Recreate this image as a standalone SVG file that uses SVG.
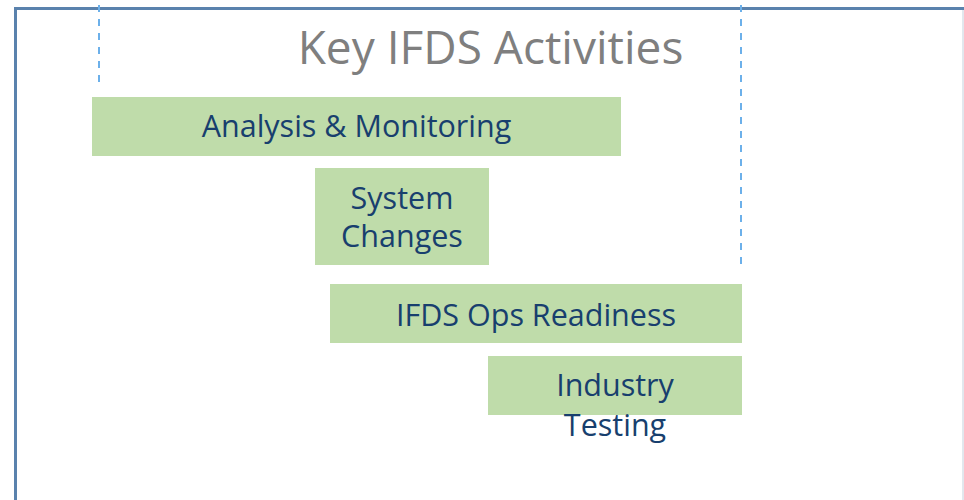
<svg xmlns="http://www.w3.org/2000/svg" width="964" height="500" viewBox="0 0 964 500">
<style>
.frame{fill:none;stroke:#5a82ad;stroke-width:3}
.guide{stroke:#6cb0ea;stroke-width:2;stroke-dasharray:7 7;fill:none}
.box{fill:#bfdcaa}
.lbl{font-family:"Open Sans","Noto Sans",sans-serif;font-size:30.5px;fill:#183f6e;text-anchor:middle}
.title{font-family:"Open Sans","Noto Sans",sans-serif;font-size:46px;fill:#7f7f7f;text-anchor:middle}
</style>
<rect width="964" height="500" fill="#ffffff"/>
<g id="frame">
<path class="frame" d="M15.5,500 V8.5 H964"/>
<line x1="963" y1="10" x2="963" y2="500" stroke="#c5d0dc" stroke-width="1"/>
</g>
<g id="connectors">
<line class="guide" x1="99" y1="5" x2="99" y2="84"/>
<line class="guide" x1="741" y1="5" x2="741" y2="266"/>
</g>
<text class="title" x="490.5" y="64">Key IFDS Activities</text>
<g id="analysis">
<rect class="box" x="92" y="97" width="529" height="59"/>
<text class="lbl" x="356.5" y="137">Analysis &amp; Monitoring</text>
</g>
<g id="system">
<rect class="box" x="315" y="168" width="174" height="97"/>
<text class="lbl" x="402" y="208.5">System</text>
<text class="lbl" x="402" y="246.5">Changes</text>
</g>
<g id="ops">
<rect class="box" x="330" y="284" width="412" height="59"/>
<text class="lbl" x="536" y="325.5">IFDS Ops Readiness</text>
</g>
<g id="testing">
<rect class="box" x="488" y="356" width="254" height="59"/>
<text class="lbl" x="615" y="396">Industry</text>
<text class="lbl" x="615" y="435.5">Testing</text>
</g>
</svg>
